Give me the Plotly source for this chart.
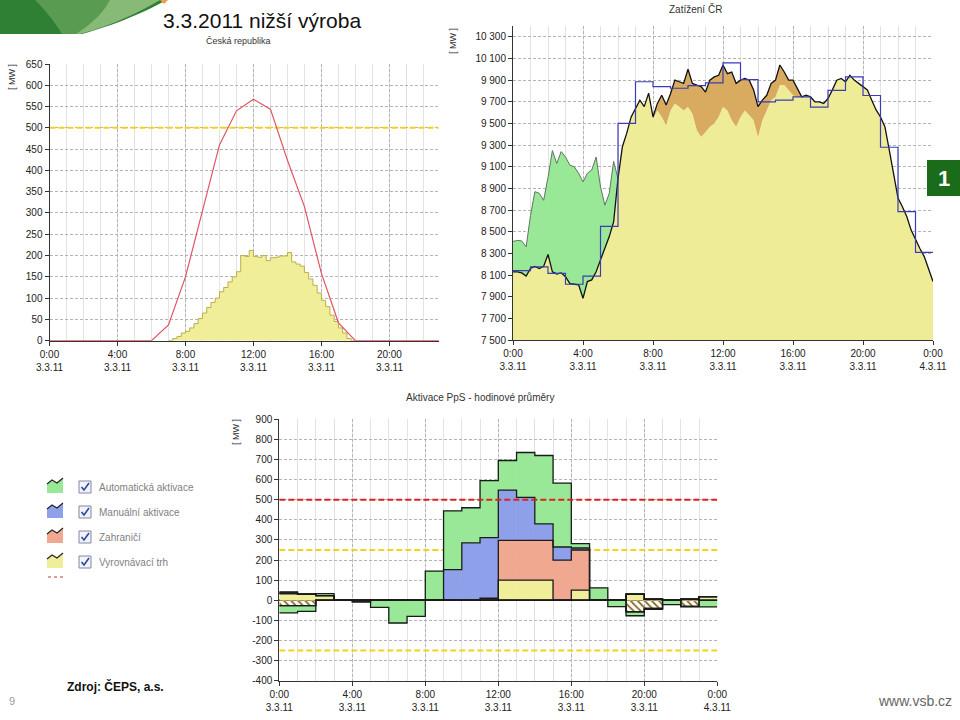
import numpy as np
import plotly.graph_objects as go

W, H = 960, 720

# ---------------- DATA ----------------
# Chart 1: Česká republika (FVE)
hours_1 = list(range(0, 24))
installed_curve = [0, 0, 0, 0, 0, 0, 0, 37, 150, 305, 460, 540, 567, 544, 424, 315, 158, 42, 0, 0, 0, 0, 0, 0]
solar_start_h = 7.0
solar_quarter = [0, 5, 10, 18, 22, 30, 40, 52, 65, 78, 90, 100, 115, 125, 138, 150,
                 162, 200, 198, 212, 198, 196, 200, 188, 195, 196, 199, 199, 207, 185, 180, 175,
                 160, 145, 130, 112, 95, 80, 60, 45, 30, 18, 5, 0, 0]
limit_1 = 500
yticks_1 = [0, 50, 100, 150, 200, 250, 300, 350, 400, 450, 500, 550, 600, 650]

# Chart 2: Zatížení ČR (15-min)
load = [8130, 8130, 8120, 8090, 8160, 8180, 8160, 8180, 8290, 8130, 8110, 8120,
        8085, 8020, 8015, 8010, 7885, 8040, 8055, 8130, 8240, 8345, 8455, 8590,
        8990, 9285, 9410, 9560, 9640, 9715, 9655, 9780, 9560, 9685, 9760, 9670,
        9775, 9900, 9885, 9870, 10000, 9870, 9855, 9840, 9790, 9900, 9930, 9945,
        10040, 9960, 9975, 9870, 9900, 9915, 9900, 9810, 9655, 9715, 9760, 9870,
        9900, 10040, 9975, 9900, 9900, 9820, 9745, 9760, 9745, 9700, 9700, 9685,
        9730, 9810, 9900, 9915, 9885, 9945, 9900, 9870, 9840, 9810, 9715, 9625,
        9560, 9470, 9255, 9040, 8810, 8730, 8640, 8515, 8425, 8345, 8270, 8145, 8040]
green_upper = [8410, 8420, 8415, 8360, 8650, 8870, 8855, 8790, 9000, 9250, 9130, 9240,
               9190, 9115, 9100, 9040, 8960, 9040, 9070, 9190, 8915, 8745, 8855, 9150, 8990]
base_mid_start_h = 8.0
base_mid = [9545, 9620, 9560, 9480, 9620, 9685, 9655, 9620, 9655, 9590, 9440, 9375,
            9420, 9470, 9500, 9560, 9655, 9620, 9530, 9470, 9560, 9620, 9575, 9530,
            9375, 9530, 9620, 9715, 9745, 9855, 9855, 9810, 9760, 9745, 9745]
plan_hourly = [8140, 8175, 8115, 8015, 8090, 8550, 9500, 9885, 9840, 9825, 9850, 9875,
               10060, 9905, 9700, 9715, 9745, 9650, 9805, 9930, 9758, 9280, 8685, 8310]
yticks_2 = [7500, 7700, 7900, 8100, 8300, 8500, 8700, 8900, 9100, 9300, 9500, 9700, 9900, 10100, 10300]
yticktext_2 = ["7 500", "7 700", "7 900", "8 100", "8 300", "8 500", "8 700", "8 900",
               "9 100", "9 300", "9 500", "9 700", "9 900", "10 100", "10 300"]

# Chart 3: Aktivace PpS - hodinové průměry
hours_3 = list(range(0, 24))
vyrovnavaci = [33, 30, 23, 0, 0, 0, 0, 0, 0, 0, 0, 0, 100, 100, 100, 0, 50, 0, 0, 31, 5, 0, 5, 18]
zahranici = [0, 0, 0, 0, 0, 0, 0, 0, 0, 0, 0, 10, 198, 198, 198, 200, 200, 0, 0, 0, 0, 0, 0, 0]
manualni = [8, 0, 0, 0, -8, 0, 0, 0, 0, 152, 285, 302, 250, 214, 82, 65, 10, 0, 0, 0, 0, 0, 0, 0]
automaticka = [-36, -28, 10, 0, 0, -35, -113, -80, 145, 293, 175, 283, 147, 223, 340, 318, 22, 62,
               -32, -20, -5, -22, -3, -33]
srafovane = [-27, -27, 0, 0, 0, 0, 0, 0, 0, 0, 0, 0, 0, 0, 0, 0, 0, 0, 0, -57, -40, 0, -30, 0]
limit_red = 500
limit_yellow = [250, -250]
yticks_3 = [-400, -300, -200, -100, 0, 100, 200, 300, 400, 500, 600, 700, 800, 900]

xticks_day = [0, 4, 8, 12, 16, 20, 24]
xticktext_day = ["0:00<br>3.3.11", "4:00<br>3.3.11", "8:00<br>3.3.11", "12:00<br>3.3.11",
                 "16:00<br>3.3.11", "20:00<br>3.3.11", "0:00<br>4.3.11"]

legend_labels = ["Automatická aktivace", "Manuální aktivace", "Zahraničí", "Vyrovnávací trh"]

# ---------------- COLORS ----------------
C_GREEN = "#98e898"
C_BLUE = "#8fa0ea"
C_SALMON = "#f0a890"
C_YEL = "#f1ee9a"
C_LINE = "#1a1a1a"
FONT = "Liberation Sans, Arial, sans-serif"


def px(x):
    return x / W


def py(y):
    return 1 - y / H


fig = go.Figure()

# ---------- Chart 1 ----------
fig.add_trace(go.Scatter(x=[hours_1[0], hours_1[-1]], y=[limit_1, limit_1], mode="lines",
                         line=dict(color="#f2d21e", width=2, dash="6px,3px"),
                         xaxis="x", yaxis="y", hoverinfo="skip"))
solar_x = [solar_start_h + 0.25 * i for i in range(len(solar_quarter))]
fig.add_trace(go.Scatter(x=solar_x, y=solar_quarter, mode="lines", line_shape="hv",
                         line=dict(color="#bcae48", width=1), fill="tozeroy", fillcolor=C_YEL,
                         xaxis="x", yaxis="y", hoverinfo="skip"))
fig.add_trace(go.Scatter(x=hours_1, y=installed_curve, mode="lines",
                         line=dict(color="#e05560", width=1.2),
                         xaxis="x", yaxis="y", hoverinfo="skip"))

# ---------- Chart 2 ----------
t2 = [0.25 * i for i in range(len(load))]
base = list(load)
i0 = int(base_mid_start_h / 0.25)
for k, v in enumerate(base_mid):
    base[i0 + k] = v
fig.add_trace(go.Scatter(x=t2, y=base, mode="lines", line=dict(width=0), fill="tozeroy",
                         fillcolor="#efec98", xaxis="x2", yaxis="y2", hoverinfo="skip"))
tg = t2[:len(green_upper)]
fig.add_trace(go.Scatter(x=tg, y=load[:len(green_upper)], mode="lines", line=dict(width=0),
                         xaxis="x2", yaxis="y2", hoverinfo="skip"))
fig.add_trace(go.Scatter(x=tg, y=green_upper, mode="lines", line=dict(color="#5d775d", width=1),
                         fill="tonexty", fillcolor="#98e898", xaxis="x2", yaxis="y2", hoverinfo="skip"))
tm = t2[i0:i0 + len(base_mid)]
fig.add_trace(go.Scatter(x=tm, y=base_mid, mode="lines", line=dict(width=0),
                         xaxis="x2", yaxis="y2", hoverinfo="skip"))
fig.add_trace(go.Scatter(x=tm, y=load[i0:i0 + len(base_mid)], mode="lines", line=dict(width=0),
                         fill="tonexty", fillcolor="#d9ab60", xaxis="x2", yaxis="y2", hoverinfo="skip"))
fig.add_trace(go.Scatter(x=t2, y=load, mode="lines", line=dict(color="#111111", width=1.3),
                         xaxis="x2", yaxis="y2", hoverinfo="skip"))
plan_x = list(range(len(plan_hourly) + 1))
plan_y = plan_hourly + [plan_hourly[-1]]
fig.add_trace(go.Scatter(x=plan_x, y=plan_y, mode="lines", line_shape="hv",
                         line=dict(color="#3c3cb4", width=1.2), xaxis="x2", yaxis="y2", hoverinfo="skip"))

# ---------- Chart 3 ----------
bar_series = [
    (srafovane, C_YEL, True),
    (vyrovnavaci, C_YEL, False),
    (zahranici, C_SALMON, False),
    (manualni, C_BLUE, False),
    (automaticka, C_GREEN, False),
]
for vals, col, hatch in bar_series:
    marker = dict(color=col, line=dict(width=0.6, color=col))
    if hatch:
        marker["line"] = dict(width=0)
        marker["pattern"] = dict(shape="\\", fgcolor="#8a6a2a", size=5, solidity=0.35)
    fig.add_trace(go.Bar(x=hours_3, y=vals, width=1, offset=0, marker=marker,
                         xaxis="x3", yaxis="y3", hoverinfo="skip"))

# outlines of stacked steps
pos_stack = [vyrovnavaci, zahranici, manualni, automaticka]
neg_stack = [srafovane, manualni, automaticka]
xs = hours_3 + [24]
cum = np.zeros(len(hours_3))
for s in pos_stack:
    cum = cum + np.clip(np.array(s, float), 0, None)
    yy = list(cum) + [cum[-1]]
    fig.add_trace(go.Scatter(x=xs, y=yy, mode="lines", line_shape="hv",
                             line=dict(color=C_LINE, width=1.3), xaxis="x3", yaxis="y3", hoverinfo="skip"))
cum = np.zeros(len(hours_3))
for s in neg_stack:
    cum = cum + np.clip(np.array(s, float), None, 0)
    yy = list(cum) + [cum[-1]]
    fig.add_trace(go.Scatter(x=xs, y=yy, mode="lines", line_shape="hv",
                             line=dict(color=C_LINE, width=1.3), xaxis="x3", yaxis="y3", hoverinfo="skip"))

fig.add_trace(go.Scatter(x=[0, 24], y=[limit_red, limit_red], mode="lines",
                         line=dict(color="#dd2020", width=2, dash="6px,3px"),
                         xaxis="x3", yaxis="y3", hoverinfo="skip"))


# ---------------- AXES ----------------
def base_axis():
    return dict(showline=True, linecolor="#333333", linewidth=1, ticks="outside", ticklen=4,
                tickcolor="#333333", tickfont=dict(family=FONT, size=10, color="#222222"),
                showgrid=True, gridcolor="#b4b4b4", griddash="3px,2px", gridwidth=1,
                zeroline=False, fixedrange=True, automargin=False)


xa1 = base_axis()
xa1.update(domain=[px(49.5), px(438.7)], range=[0, 22.9], tickmode="array",
           tickvals=xticks_day[:-1], ticktext=xticktext_day[:-1], anchor="y",
           minor=dict(tickmode="array", tickvals=list(range(0, 23)), showgrid=True,
                      gridcolor="#e3e3e3", griddash="solid", ticks=""))
ya1 = base_axis()
ya1.update(domain=[py(340.7), py(64)], range=[0, 650], tickmode="array", tickvals=yticks_1,
           ticktext=[str(v) for v in yticks_1], anchor="x")

xa2 = base_axis()
xa2.update(domain=[px(513), px(933)], range=[0, 24], tickmode="array", tickvals=xticks_day,
           ticktext=xticktext_day, anchor="y2",
           minor=dict(tickmode="array", tickvals=list(range(0, 25)), showgrid=True,
                      gridcolor="#e3e3e3", griddash="solid", ticks=""))
ya2 = base_axis()
ya2.update(domain=[py(340), py(26)], range=[7500, 10400], tickmode="array", tickvals=yticks_2,
           ticktext=yticktext_2, anchor="x2")

xa3 = base_axis()
xa3.update(domain=[px(279.3), px(717.3)], range=[0, 24], tickmode="array", tickvals=xticks_day,
           ticktext=xticktext_day, anchor="y3",
           minor=dict(tickmode="array", tickvals=list(range(0, 25)), showgrid=True,
                      gridcolor="#e3e3e3", griddash="solid", ticks=""))
ya3 = base_axis()
ya3.update(domain=[py(680.7), py(419.3)], range=[-400, 900], tickmode="array", tickvals=yticks_3,
           ticktext=[str(v) for v in yticks_3], anchor="x3",
           zeroline=True, zerolinecolor="#111111", zerolinewidth=1.5)


# ---------------- SHAPES / ANNOTATIONS ----------------
def path(cmds):
    out = []
    for c in cmds:
        if c[0] == "Z":
            out.append("Z")
            continue
        pts = " ".join(f"{px(x):.5f},{py(y):.5f}" for x, y in c[1:])
        out.append(f"{c[0]}{pts}")
    return " ".join(out)


shapes = []
# yellow limits in chart 3 (beneath the bars)
for lv in limit_yellow:
    shapes.append(dict(type="line", xref="x3", yref="y3", x0=0, x1=24, y0=lv, y1=lv, layer="between",
                       line=dict(color="#f2d21e", width=2, dash="6px,3px")))

# top-left swoosh
shapes.append(dict(type="path", xref="paper", yref="paper", line=dict(width=0), fillcolor="#2f7f35",
                   path=path([("M", (0, 0)), ("L", (166, 0)), ("C", (150, 10), (115, 25), (82, 34)),
                              ("L", (0, 34)), ("Z",)])))
shapes.append(dict(type="path", xref="paper", yref="paper", line=dict(width=0), fillcolor="#5f9e55",
                   opacity=0.9,
                   path=path([("M", (35, 0)), ("L", (160, 0)), ("C", (140, 12), (110, 26), (80, 34)),
                              ("L", (62, 34)), ("C", (55, 22), (45, 10), (35, 0)), ("Z",)])))
shapes.append(dict(type="path", xref="paper", yref="paper", line=dict(width=0), fillcolor="#8fc07c",
                   opacity=0.85,
                   path=path([("M", (110, 0)), ("L", (160, 0)), ("C", (140, 12), (110, 26), (80, 34)),
                              ("L", (76, 34)), ("C", (95, 22), (105, 10), (110, 0)), ("Z",)])))
shapes.append(dict(type="path", xref="paper", yref="paper", line=dict(width=0), fillcolor="#e8a050",
                   path=path([("M", (160, 0)), ("L", (168, 0)), ("L", (164, 4)), ("Z",)])))

# green box "1"
shapes.append(dict(type="rect", xref="paper", yref="paper", x0=px(927), x1=px(960), y0=py(196), y1=py(160),
                   fillcolor="#1a6b1a", line=dict(width=0)))

# manual legend
leg_colors = [C_GREEN, C_BLUE, C_SALMON, C_YEL]
rows = [487, 512, 537, 562]
annotations = []
for lab, col, yc in zip(legend_labels, leg_colors, rows):
    shapes.append(dict(type="path", xref="paper", yref="paper", line=dict(width=0), fillcolor=col,
                       path=path([("M", (47, yc - 3)), ("L", (52, yc - 7)), ("L", (57, yc - 4)),
                                  ("L", (63, yc - 9)), ("L", (63, yc + 6)), ("L", (47, yc + 6)), ("Z",)])))
    shapes.append(dict(type="path", xref="paper", yref="paper", line=dict(color="#222222", width=1.2),
                       path=path([("M", (47, yc - 3)), ("L", (52, yc - 7)), ("L", (57, yc - 4)),
                                  ("L", (63, yc - 9))])))
    shapes.append(dict(type="rect", xref="paper", yref="paper", x0=px(79), x1=px(91), y0=py(yc + 6),
                       y1=py(yc - 6), fillcolor="#f2f3f8", line=dict(color="#8086a0", width=1)))
    shapes.append(dict(type="path", xref="paper", yref="paper", line=dict(color="#2a48a0", width=1.6),
                       path=path([("M", (81.5, yc)), ("L", (84, yc + 3)), ("L", (89, yc - 4))])))
    annotations.append(dict(text=lab, x=px(97), y=py(yc), xref="paper", yref="paper", xanchor="left",
                            yanchor="middle", showarrow=False,
                            font=dict(family=FONT, size=10, color="#7f7f7f")))
shapes.append(dict(type="line", xref="paper", yref="paper", x0=px(48), x1=px(63), y0=py(577), y1=py(577),
                   line=dict(color="#cc3333", width=1, dash="dot")))


def ann(text, x, y, size, color="#333333", bold=False, angle=0, family=FONT, xanchor="center"):
    t = f"<b>{text}</b>" if bold else text
    annotations.append(dict(text=t, x=px(x), y=py(y), xref="paper", yref="paper", xanchor=xanchor,
                            yanchor="middle", showarrow=False, textangle=angle,
                            font=dict(family=family, size=size, color=color)))


ann("3.3.2011 nižší výroba", 262, 20, 21, color="#111111")
ann("Česká republika", 238, 41, 9)
ann("Zatížení ČR", 695, 9, 10)
ann("Aktivace PpS - hodinové průměry", 480, 397, 10)
ann("[ MW ]", 12, 77, 9, angle=-90)
ann("[ MW ]", 453, 41, 9, angle=-90)
ann("[ MW ]", 236, 432, 9, angle=-90)
ann("1", 944, 178, 22, color="#ffffff", bold=True)
ann("Zdroj: ČEPS, a.s.", 115, 686, 12, color="#111111", bold=True)
ann("9", 12, 701, 11, color="#9a9a9a")
ann("www.vsb.cz", 915, 701, 14, color="#666666")

fig.update_layout(
    width=W, height=H, autosize=False, template="none",
    margin=dict(l=0, r=0, t=0, b=0),
    paper_bgcolor="white", plot_bgcolor="white",
    showlegend=False, barmode="relative",
    xaxis=xa1, yaxis=ya1, xaxis2=xa2, yaxis2=ya2, xaxis3=xa3, yaxis3=ya3,
    shapes=shapes, annotations=annotations,
)

fig.write_html("out.html", config={"displayModeBar": False},
               post_script="document.body.style.margin='0';document.body.style.overflow='hidden';")
